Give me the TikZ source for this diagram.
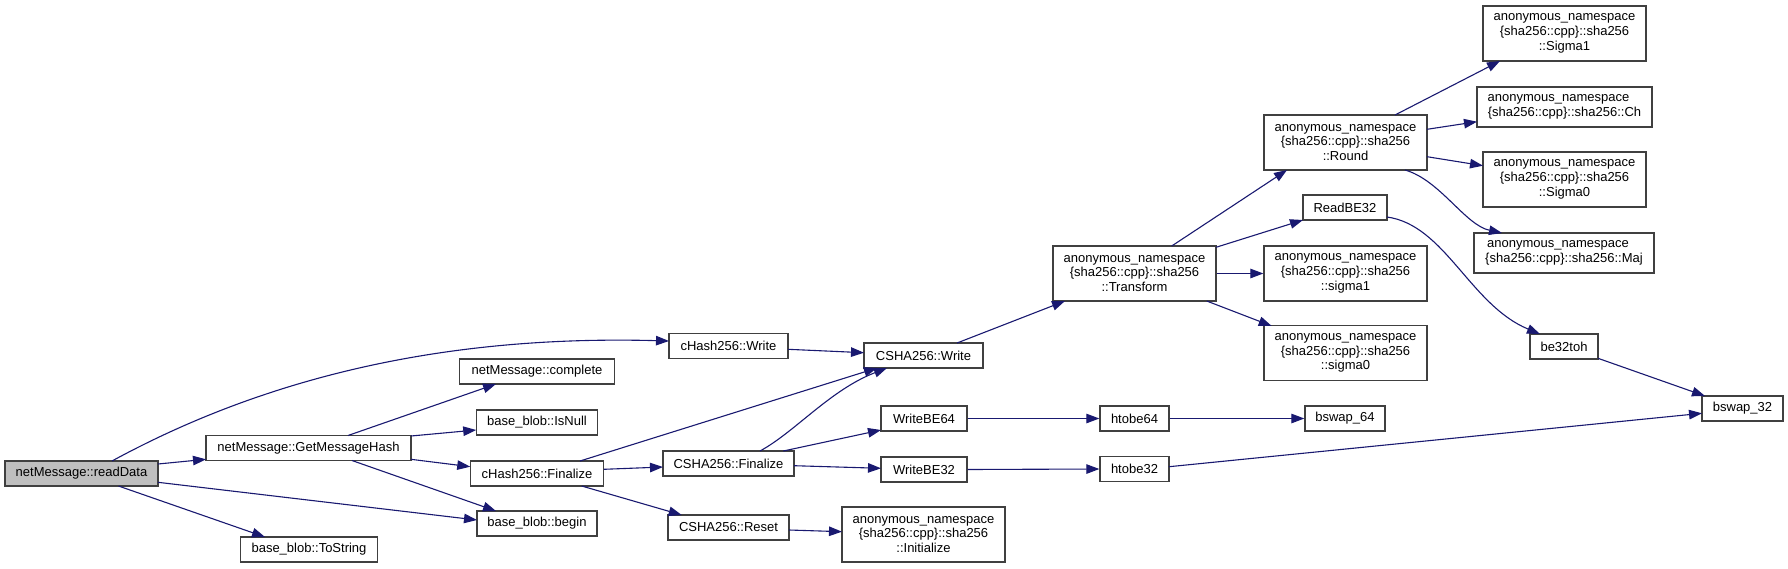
\documentclass[tikz,border=0pt]{standalone}
\usepackage{fontspec}
\setmainfont{Liberation Sans}
\usetikzlibrary{arrows.meta}
\definecolor{edgecol}{HTML}{191970}
\definecolor{boxcol}{HTML}{404040}
\definecolor{hl}{HTML}{BFBFBF}
\begin{document}
\begin{tikzpicture}[x=1pt,y=-1pt,
  box/.style={draw=boxcol, line width=1.3pt, fill=white, inner sep=0pt, align=center,
    font=\fontsize{13}{14.7}\selectfont, text=black},
  edge/.style={draw=edgecol, line width=1.1pt, -{Triangle[length=13pt,width=9.5pt]}}]
\useasboundingbox (0,0) rectangle (1788,568);
% nodes
\node[box, fill=hl, minimum width=153pt, minimum height=25pt] (rd) at (81.5,473.5) {netMessage::readData};
\node[box, minimum width=205pt, minimum height=25pt] (gmh) at (308.5,448) {netMessage::GetMessageHash};
\node[box, minimum width=155.5pt, minimum height=25pt] (comp) at (537,371.5) {netMessage::complete};
\node[box, minimum width=121.5pt, minimum height=25pt] (isnull) at (537,422.5) {base\_blob::IsNull};
\node[box, minimum width=133.5pt, minimum height=25pt] (chf) at (537,473.5) {cHash256::Finalize};
\node[box, minimum width=120pt, minimum height=25pt] (begin) at (537,523.5) {base\_blob::begin};
\node[box, minimum width=137pt, minimum height=25pt] (tostr) at (309,549.5) {base\_blob::ToString};
\node[box, minimum width=119pt, minimum height=25.5pt] (chw) at (728.5,346) {cHash256::Write};
\node[box, minimum width=119pt, minimum height=25pt] (csw) at (923.5,355.5) {CSHA256::Write};
\node[box, minimum width=131pt, minimum height=25pt] (csf) at (728.5,463.5) {CSHA256::Finalize};
\node[box, minimum width=121pt, minimum height=25pt] (csr) at (728.5,527.5) {CSHA256::Reset};
\node[box, minimum width=86pt, minimum height=25pt] (wbe64) at (924,418.5) {WriteBE64};
\node[box, minimum width=86pt, minimum height=25pt] (wbe32) at (924,469.5) {WriteBE32};
\node[box, minimum width=163pt, minimum height=55pt] (init) at (923.5,534.5) {anonymous\_namespace\\\{sha256::cpp\}::sha256\hspace*{14pt}\\::Initialize};
\node[box, minimum width=163pt, minimum height=55pt] (tr) at (1134.5,273.5) {anonymous\_namespace\\\{sha256::cpp\}::sha256\hspace*{14pt}\\::Transform};
\node[box, minimum width=163pt, minimum height=55pt] (round) at (1345.5,142.5) {anonymous\_namespace\\\{sha256::cpp\}::sha256\hspace*{14pt}\\::Round};
\node[box, minimum width=84pt, minimum height=25pt] (rbe32) at (1345,207.5) {ReadBE32};
\node[box, minimum width=163pt, minimum height=55pt] (s1) at (1345.5,273.5) {anonymous\_namespace\\\{sha256::cpp\}::sha256\hspace*{14pt}\\::sigma1};
\node[box, minimum width=163pt, minimum height=55pt] (s0) at (1345.5,353) {anonymous\_namespace\\\{sha256::cpp\}::sha256\hspace*{14pt}\\::sigma0};
\node[box, minimum width=69pt, minimum height=25pt] (htobe64) at (1134.5,418.5) {htobe64};
\node[box, minimum width=69pt, minimum height=25pt] (htobe32) at (1134.5,469) {htobe32};
\node[box, minimum width=80pt, minimum height=25pt] (bswap64) at (1345,418.5) {bswap\_64};
\node[box, minimum width=163pt, minimum height=55pt] (bS1) at (1564.5,33.5) {anonymous\_namespace\\\{sha256::cpp\}::sha256\hspace*{14pt}\\::Sigma1};
\node[box, minimum width=175pt, minimum height=40pt] (ch) at (1564.5,107) {anonymous\_namespace\hspace*{12pt}\\\{sha256::cpp\}::sha256::Ch};
\node[box, minimum width=163pt, minimum height=55pt] (bS0) at (1564.5,179.5) {anonymous\_namespace\\\{sha256::cpp\}::sha256\hspace*{14pt}\\::Sigma0};
\node[box, minimum width=180pt, minimum height=40pt] (maj) at (1564,253) {anonymous\_namespace\hspace*{12pt}\\\{sha256::cpp\}::sha256::Maj};
\node[box, minimum width=68pt, minimum height=25pt] (be32toh) at (1564,346.5) {be32toh};
\node[box, minimum width=81pt, minimum height=25pt] (bswap32) at (1742.5,408.5) {bswap\_32};
% edges
\draw[edge] ([shift={(30.5,-12.5)}]rd.center) .. controls +(158,-86) and +(-219,-6) .. ([shift={(-59.5,-5)}]chw.center);
\draw[edge] ([shift={(76.5,-9.5)}]rd.center) -- ([shift={(-102.5,11.3)}]gmh.center);
\draw[edge] ([shift={(76.5,8.8)}]rd.center) -- ([shift={(-60,-3.5)}]begin.center);
\draw[edge] ([shift={(37,12.5)}]rd.center) -- ([shift={(-44,-12.5)}]tostr.center);
\draw[edge] ([shift={(39.5,-12.5)}]gmh.center) -- ([shift={(-41,12.5)}]comp.center);
\draw[edge] ([shift={(102.5,-12)}]gmh.center) -- ([shift={(-60.75,7.5)}]isnull.center);
\draw[edge] ([shift={(102.5,11.3)}]gmh.center) -- ([shift={(-66.75,-6.8)}]chf.center);
\draw[edge] ([shift={(43.5,12.5)}]gmh.center) -- ([shift={(-41,-12.5)}]begin.center);
\draw[edge] ([shift={(59.5,3.3)}]chw.center) -- ([shift={(-59.5,-2.8)}]csw.center);
\draw[edge] ([shift={(43,-12.5)}]chf.center) -- ([shift={(-46.5,12.5)}]csw.center);
\draw[edge] ([shift={(66.75,-4.2)}]chf.center) -- ([shift={(-65.5,3.5)}]csf.center);
\draw[edge] ([shift={(44.7,12.5)}]chf.center) -- ([shift={(-46.8,-12.5)}]csr.center);
\draw[edge] ([shift={(31.5,-12.5)}]csf.center) .. controls +(35,-19) and +(-57,22) .. ([shift={(-36.5,12.5)}]csw.center);
\draw[edge] ([shift={(54.8,-12.5)}]csf.center) -- ([shift={(-43,11.5)}]wbe64.center);
\draw[edge] ([shift={(65.5,2.2)}]csf.center) -- ([shift={(-43,-1.2)}]wbe32.center);
\draw[edge] ([shift={(60.5,2.5)}]csr.center) -- ([shift={(-81.5,-2.8)}]init.center);
\draw[edge] ([shift={(33.5,-12.5)}]csw.center) -- ([shift={(-69.5,27.5)}]tr.center);
\draw[edge] ([shift={(37.2,-27.5)}]tr.center) -- ([shift={(-58.5,27.5)}]round.center);
\draw[edge] ([shift={(81.5,-26.2)}]tr.center) -- ([shift={(-42,12.5)}]rbe32.center);
\draw[edge] (tr.east) -- (s1.west);
\draw[edge] ([shift={(72.2,27.5)}]tr.center) -- ([shift={(-73.8,-27)}]s0.center);
\draw[edge] ([shift={(49.5,-27.5)}]round.center) -- ([shift={(-64.5,27.5)}]bS1.center);
\draw[edge] ([shift={(81.5,-13.2)}]round.center) -- ([shift={(-87.5,14.7)}]ch.center);
\draw[edge] ([shift={(81.5,14.2)}]round.center) -- ([shift={(-81.5,-13.8)}]bS0.center);
\draw[edge] ([shift={(59.5,27.5)}]round.center) .. controls +(35,10) and +(-37,-8) .. ([shift={(-62,-20)}]maj.center);
\draw[edge] ([shift={(42,9.5)}]rbe32.center) .. controls +(58,8) and +(-70,-29) .. ([shift={(-24,-12.5)}]be32toh.center);
\draw[edge] ([shift={(34,11.8)}]be32toh.center) -- ([shift={(-37.5,-12.5)}]bswap32.center);
\draw[edge] (wbe64.east) -- (htobe64.west);
\draw[edge] (htobe64.east) -- (bswap64.west);
\draw[edge] (wbe32.east) -- (htobe32.west);
\draw[edge] ([shift={(34.5,-2.3)}]htobe32.center) -- ([shift={(-40.5,4.8)}]bswap32.center);
\end{tikzpicture}
\end{document}
